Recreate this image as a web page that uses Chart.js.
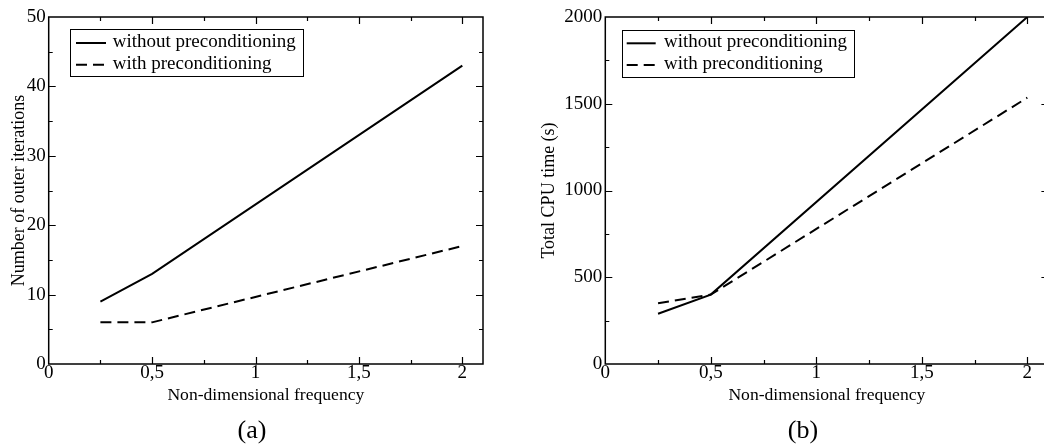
<!DOCTYPE html>
<html><head><meta charset="utf-8">
<script src="https://cdn.jsdelivr.net/npm/chart.js@4.4.1/dist/chart.umd.min.js"></script>
<style>
html,body{margin:0;padding:0;background:#fff;overflow:hidden;width:1044px;height:444px;}
#wa{position:absolute;left:0;top:0;width:522px;height:444px;}
#wb{position:absolute;left:522px;top:0;width:540px;height:444px;}
.cap{position:absolute;width:100px;text-align:center;font-family:'Liberation Serif',serif;font-size:26px;line-height:26px;top:417px;color:#000;}
</style></head><body>
<div id="wa"><canvas id="ca" width="522" height="444"></canvas></div>
<div id="wb"><canvas id="cb" width="540" height="444"></canvas></div>
<div class="cap" style="left:202px">(a)</div>
<div class="cap" style="left:753px">(b)</div>
<script>
// ---- data ----
const frequencies = [0.25, 0.5, 2];
const iterWithout = [9, 13, 43];
const iterWith = [6, 6, 17];
const cpuWithout = [290, 400, 2000];
const cpuWith = [350, 400, 1535];
const seriesLabels = ['without preconditioning', 'with preconditioning'];
const xTitle = 'Non-dimensional frequency';
const yTitleA = 'Number of outer iterations';
const yTitleB = 'Total CPU time (s)';
const xTickStep = 0.5;
const yTickStepA = 10;
const yTickStepB = 500;

const FONT = "'Liberation Serif', 'Times New Roman', serif";

function pts(xs, ys) { return xs.map((v, i) => ({x: v, y: ys[i]})); }

const framePlugin = {
  id: 'frame',
  afterDatasetsDraw(chart, args, opts) {
    const {ctx, chartArea: a, scales: {x, y}} = chart;
    ctx.save();
    ctx.strokeStyle = '#000';
    ctx.lineWidth = 1.5;
    ctx.strokeRect(a.left, a.top, a.right - a.left, a.bottom - a.top);
    ctx.lineWidth = 1.2;
    ctx.beginPath();
    const MAJ = 7, MIN = 4;
    const xStep = opts.xStep / 2;
    for (let k = 1; k * xStep <= x.max + 1e-9; k++) {
      const v = k * xStep;
      const len = (k % 2 === 0) ? MAJ : MIN;
      const p = Math.round(x.getPixelForValue(v)) + 0.5;
      ctx.moveTo(p, a.bottom); ctx.lineTo(p, a.bottom - len);
      ctx.moveTo(p, a.top); ctx.lineTo(p, a.top + len);
    }
    const yStep = opts.yStep / 2;
    for (let k = 1; k * yStep < y.max - 1e-9; k++) {
      const v = k * yStep;
      const len = (k % 2 === 0) ? MAJ : MIN;
      const p = Math.round(y.getPixelForValue(v)) + 0.5;
      ctx.moveTo(a.left, p); ctx.lineTo(a.left + len, p);
      ctx.moveTo(a.right, p); ctx.lineTo(a.right - len, p);
    }
    ctx.stroke();
    ctx.restore();
  },
  afterDraw(chart, args, opts) {
    const {ctx, chartArea: a} = chart;
    const L = opts.legend;
    const bx = a.left + L.dx, by = a.top + L.dy;
    ctx.save();
    ctx.fillStyle = '#fff';
    ctx.fillRect(bx, by, L.w, L.h);
    ctx.strokeStyle = '#000';
    ctx.lineWidth = 1;
    ctx.strokeRect(Math.round(bx) + 0.5, Math.round(by) + 0.5, L.w, L.h);
    ctx.font = '19px ' + FONT;
    ctx.fillStyle = '#000';
    ctx.textBaseline = 'alphabetic';
    chart.data.datasets.forEach((ds, i) => {
      const base = by + L.first + i * L.row;
      const ly = base - 4;
      ctx.beginPath();
      ctx.lineWidth = 2;
      ctx.setLineDash(ds.borderDash || []);
      ctx.moveTo(bx + L.s0, ly); ctx.lineTo(bx + L.s1, ly);
      ctx.stroke();
      ctx.setLineDash([]);
      ctx.fillText(ds.label, bx + L.tx, base);
    });
    ctx.restore();
  }
};

function makeChart(id, ySeries, yMax, yStep, yTitle, yWidth, yTitlePad, padRight, legendBox) {
  return new Chart(document.getElementById(id), {
    type: 'line',
    data: {
      datasets: [
        {label: seriesLabels[0], data: pts(frequencies, ySeries[0]), borderColor: '#000', borderWidth: 2, pointRadius: 0, fill: false, tension: 0},
        {label: seriesLabels[1], data: pts(frequencies, ySeries[1]), borderColor: '#000', borderWidth: 2, borderDash: [11, 6], pointRadius: 0, fill: false, tension: 0}
      ]
    },
    options: {
      responsive: false,
      devicePixelRatio: 1,
      animation: false,
      layout: {padding: {left: 0, top: 17, right: padRight, bottom: 36}},
      plugins: {
        legend: {display: false},
        tooltip: {enabled: false},
        frame: {xStep: xTickStep, yStep: yStep, legend: legendBox}
      },
      scales: {
        x: {
          type: 'linear', min: 0, max: 2.1,
          ticks: {stepSize: xTickStep, includeBounds: false, padding: -2, color: '#000',
                  font: {family: FONT, size: 19},
                  callback: v => String(v).replace('.', ',')},
          grid: {display: false, drawTicks: false}, border: {display: false},
          title: {display: true, text: xTitle, color: '#000', font: {family: FONT, size: 17.6}, padding: {top: 0, bottom: 2.5}},
          afterFit(s) { s.height = 44; }
        },
        y: {
          min: 0, max: yMax,
          ticks: {stepSize: yStep, includeBounds: false, padding: 3, color: '#000', font: {family: FONT, size: 19},
                  callback: v => String(v)},
          grid: {display: false, drawTicks: false}, border: {display: false},
          title: {display: true, text: yTitle, color: '#000', font: {family: FONT, size: 18}, padding: {top: yTitlePad, bottom: 0}},
          afterFit(s) { s.width = yWidth; }
        }
      }
    },
    plugins: [framePlugin]
  });
}

makeChart('ca', [iterWithout, iterWith], 50, yTickStepA, yTitleA, 48.7, 8, 39,
  {dx: 21.3, dy: 12.3, w: 233, h: 47, s0: 6, s1: 36, tx: 42.7, first: 17.7, row: 21.7});
makeChart('cb', [cpuWithout, cpuWith], 2000, yTickStepB, yTitleB, 83.3, 16, 13.6,
  {dx: 16.4, dy: 12.6, w: 232, h: 47, s0: 5, s1: 34, tx: 42.3, first: 17.7, row: 21.7});
</script>
</body></html>
